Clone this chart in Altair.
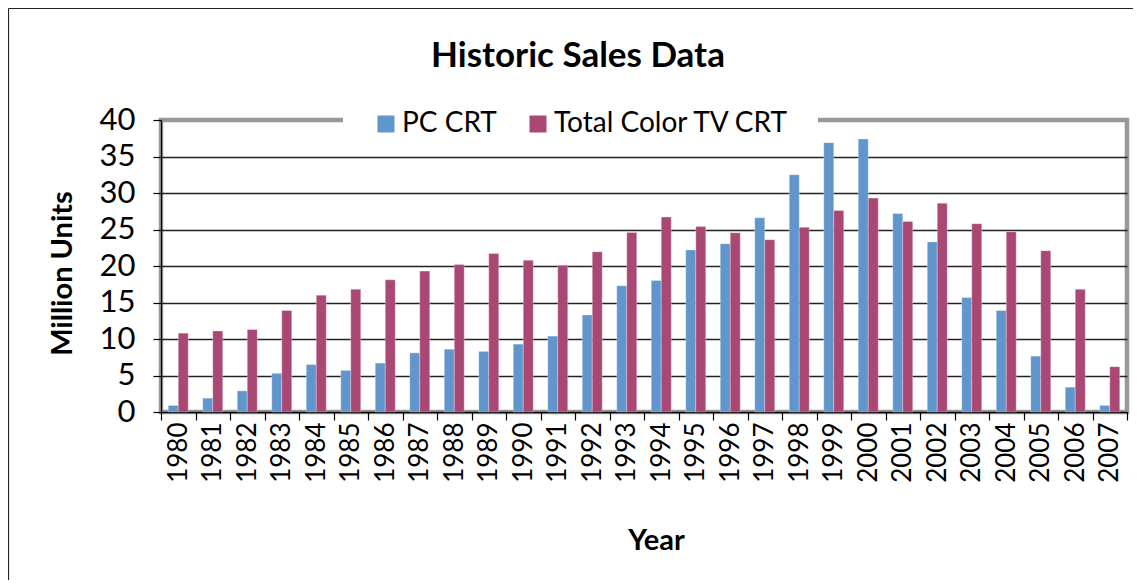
import altair as alt
import pandas as pd

years = [str(y) for y in range(1980, 2008)]
pc_crt = [0.9, 1.9, 2.9, 5.3, 6.5, 5.7, 6.7, 8.1, 8.6, 8.3, 9.3, 10.4, 13.3, 17.3,
          18.0, 22.2, 23.05, 26.6, 32.5, 36.9, 37.4, 27.2, 23.3, 15.7, 13.9, 7.65, 3.4, 0.9]
tv_crt = [10.8, 11.1, 11.3, 13.9, 16.0, 16.8, 18.1, 19.3, 20.2, 21.7, 20.8, 20.1, 21.95, 24.6,
          26.7, 25.4, 24.55, 23.6, 25.3, 27.6, 29.3, 26.1, 28.6, 25.8, 24.7, 22.1, 16.8, 6.2]
series = ["PC CRT", "Total Color TV CRT"]
colors = ["#6096CC", "#A94874"]

rows = []
for i, y in enumerate(years):
    rows.append({"Year": y, "Series": series[0], "Value": pc_crt[i]})
    rows.append({"Year": y, "Series": series[1], "Value": tv_crt[i]})
df = pd.DataFrame(rows)

FONT = "Lato"
W, H = 966, 292

bars = alt.Chart(df).mark_bar(stroke="white", strokeWidth=0.5, strokeOpacity=0.6).encode(
    x=alt.X("Year:N", sort=years,
            scale=alt.Scale(paddingInner=0, paddingOuter=0),
            axis=alt.Axis(title="Year", labelAngle=-90, labelFontSize=26, labelFont=FONT,
                          labelColor="black", labelPadding=2, tickBand="extent",
                          tickSize=8, tickColor="black", tickWidth=1.2,
                          domainColor="black", domainWidth=1.2, grid=False,
                          titleFont=FONT, titleFontSize=29, titleFontWeight="bold",
                          titleColor="black", titleX=W / 2 + 12, titleY=128,
                          titleBaseline="middle", titleAlign="center", zindex=0)),
    xOffset=alt.XOffset("Series:N", sort=series,
                        scale=alt.Scale(domain=series, paddingInner=0, paddingOuter=0.725)),
    y=alt.Y("Value:Q",
            scale=alt.Scale(domain=[0, 40], nice=False),
            axis=alt.Axis(title="Million Units", values=list(range(0, 41, 5)),
                          labelFontSize=31, labelFont=FONT, labelColor="black",
                          labelPadding=18, tickSize=8, tickColor="black", tickWidth=1.2,
                          domainColor="black", domainWidth=1.2,
                          grid=True, gridWidth=1.3,
                          gridColor={"condition": {"test": "datum.value >= 40",
                                                   "value": "#999999"},
                                     "value": "#222222"},
                          titleFont=FONT, titleFontSize=29, titleFontWeight="bold",
                          titleColor="black", titleX=-99, titleY=H / 2 + 7,
                          titleBaseline="middle", titleAlign="center", zindex=0)),
    color=alt.Color("Series:N", sort=series,
                    scale=alt.Scale(domain=series, range=colors),
                    legend=alt.Legend(title=None, orient="none", direction="horizontal",
                                      legendX=378 - 161 - 6, legendY=-10,
                                      symbolType="square", symbolSize=289,
                                      symbolStrokeWidth=0, symbolOpacity=1,
                                      labelFont=FONT, labelFontSize=28, labelColor="black",
                                      labelLimit=500,
                                      labelOffset=2, columnPadding=27, padding=0)),
)

one = pd.DataFrame({"a": [0]})

gap = alt.Chart(one).mark_rect(color="white").encode(
    x=alt.value(343 - 161), x2=alt.value(818 - 161), y=alt.value(-5), y2=alt.value(3)
)

outer_top = alt.Chart(one).mark_rule(color="#222222", strokeWidth=1.2).encode(
    x=alt.value(-152.5), x2=alt.value(980), y=alt.value(-111.5)
)
outer_left = alt.Chart(one).mark_rule(color="#222222", strokeWidth=1.2).encode(
    x=alt.value(-152.5), y=alt.value(-111.5), y2=alt.value(470)
)

chart = alt.layer(bars, gap, outer_top, outer_left).properties(
    width=W, height=H,
    background="white",
    title=alt.Title("Historic Sales Data", font=FONT, fontSize=35, fontWeight="bold",
                    color="black", anchor="middle", dx=-66, offset=-94,
                    baseline="alphabetic"),
    autosize=alt.AutoSizeParams(type="none"),
    padding={"left": 153, "top": 112, "right": 6, "bottom": 168},
).configure_view(stroke="#999999", strokeWidth=4.5)

chart.save("out.html", embed_options={"renderer": "svg", "actions": False})
